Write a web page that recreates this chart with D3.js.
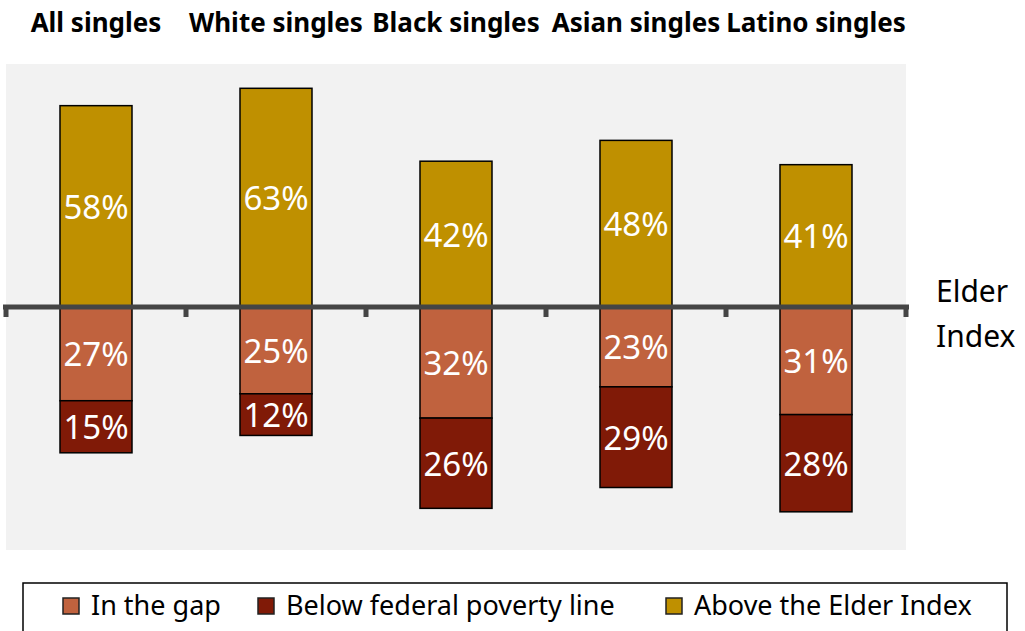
<!DOCTYPE html>
<html>
<head>
<meta charset="utf-8">
<script src="https://cdn.jsdelivr.net/npm/d3@7"></script>
<style>
  body { margin: 0; background: #fff; }
  svg { display: block; font-family: "Noto Sans", sans-serif; }
</style>
</head>
<body>
<script>
const WIDTH_SVG = 1025;
const HEIGHT_SVG = 631;

// Data
const groups = ["All singles", "White singles", "Black singles", "Asian singles", "Latino singles"];
const aboveIndex = [58, 63, 42, 48, 41];
const inGap = [27, 25, 32, 23, 31];
const belowPoverty = [15, 12, 26, 29, 28];
const legendLabels = ["In the gap", "Below federal poverty line", "Above the Elder Index"];

const COLOR_GAP = "#C0623E";
const COLOR_POVERTY = "#801A07";
const COLOR_ABOVE = "#BF9000";

const PLOT_LEFT = 6;
const PLOT_RIGHT = 906;
const PLOT_TOP = 64;
const PLOT_BOTTOM = 550;

const svg = d3.select("body")
    .append("svg")
        .attr("width", WIDTH_SVG)
        .attr("height", HEIGHT_SVG);

const x = d3.scaleBand()
    .domain(groups)
    .range([PLOT_LEFT, PLOT_RIGHT])
    .paddingInner(0.6)
    .paddingOuter(0.3);

const y = d3.scaleLinear()
    .domain([-70, 70])
    .range([PLOT_BOTTOM, PLOT_TOP]);

// Plot background
svg.append("rect")
    .attr("x", PLOT_LEFT)
    .attr("y", PLOT_TOP)
    .attr("width", PLOT_RIGHT - PLOT_LEFT)
    .attr("height", PLOT_BOTTOM - PLOT_TOP)
    .attr("fill", "#F2F2F2");

// Build segments: above grows up from 0, gap and poverty stack downward
let segments = [];
groups.forEach((g, i) => {
    segments.push({ g: g, y0: 0, y1: aboveIndex[i], v: aboveIndex[i], color: COLOR_ABOVE });
    segments.push({ g: g, y0: -inGap[i], y1: 0, v: inGap[i], color: COLOR_GAP });
    segments.push({ g: g, y0: -inGap[i] - belowPoverty[i], y1: -inGap[i], v: belowPoverty[i], color: COLOR_POVERTY });
});

svg.append("g")
    .selectAll("rect")
    .data(segments)
    .join("rect")
        .attr("x", d => x(d.g))
        .attr("y", d => y(d.y1))
        .attr("width", x.bandwidth())
        .attr("height", d => y(d.y0) - y(d.y1))
        .attr("fill", d => d.color)
        .attr("stroke", "#000")
        .attr("stroke-width", 1.5);

svg.append("g")
    .selectAll("text")
    .data(segments)
    .join("text")
        .attr("x", d => x(d.g) + x.bandwidth() / 2)
        .attr("y", d => (y(d.y0) + y(d.y1)) / 2)
        .attr("dy", "0.38em")
        .attr("text-anchor", "middle")
        .attr("fill", "#fff")
        .style("font-size", "33px")
        .text(d => d.v + "%");

// Zero axis ("Elder Index" line)
const axis = d3.axisBottom(x)
    .tickValues([])
    .tickSizeOuter(0);
const axisG = svg.append("g")
    .attr("transform", `translate(0,${y(0)})`)
    .call(axis);
axisG.select(".domain")
    .attr("stroke", "#454545")
    .attr("stroke-width", 5)
    .attr("d", `M${PLOT_LEFT - 3},0H${PLOT_RIGHT + 3}`);

// Ticks at band boundaries
const boundaries = groups.map(g => x(g) - x.step() * x.paddingOuter()).concat([PLOT_RIGHT]);
axisG.selectAll(".bound")
    .data(boundaries)
    .join("line")
        .attr("class", "bound")
        .attr("x1", d => d)
        .attr("x2", d => d)
        .attr("y1", 0)
        .attr("y2", 10)
        .attr("stroke", "#454545")
        .attr("stroke-width", 5);

// Group titles
svg.append("g")
    .selectAll("text")
    .data(groups)
    .join("text")
        .attr("x", d => x(d) + x.bandwidth() / 2)
        .attr("y", 32)
        .attr("text-anchor", "middle")
        .style("font-size", "26px")
        .style("font-weight", "bold")
        .text(d => d);

// Elder Index label
const elder = svg.append("text")
    .attr("x", 936)
    .attr("y", 302)
    .style("font-size", "30px")
    .attr("fill", "#000");
elder.append("tspan").attr("x", 936).text("Elder");
elder.append("tspan").attr("x", 936).attr("dy", 45).text("Index");

// Legend
svg.append("rect")
    .attr("x", 23)
    .attr("y", 583)
    .attr("width", 984)
    .attr("height", 60)
    .attr("fill", "#fff")
    .attr("stroke", "#000")
    .attr("stroke-width", 1.5);

const legendItems = [
    { label: legendLabels[0], color: COLOR_GAP, x: 63 },
    { label: legendLabels[1], color: COLOR_POVERTY, x: 258 },
    { label: legendLabels[2], color: COLOR_ABOVE, x: 666 }
];
const leg = svg.append("g")
    .selectAll("g")
    .data(legendItems)
    .join("g")
        .attr("transform", d => `translate(${d.x},598)`);
leg.append("rect")
    .attr("width", 16)
    .attr("height", 16)
    .attr("fill", d => d.color)
    .attr("stroke", "#222")
    .attr("stroke-width", 1.5);
leg.append("text")
    .attr("x", 28)
    .attr("y", 17)
    .style("font-size", "27px")
    .text(d => d.label);
</script>
</body>
</html>
